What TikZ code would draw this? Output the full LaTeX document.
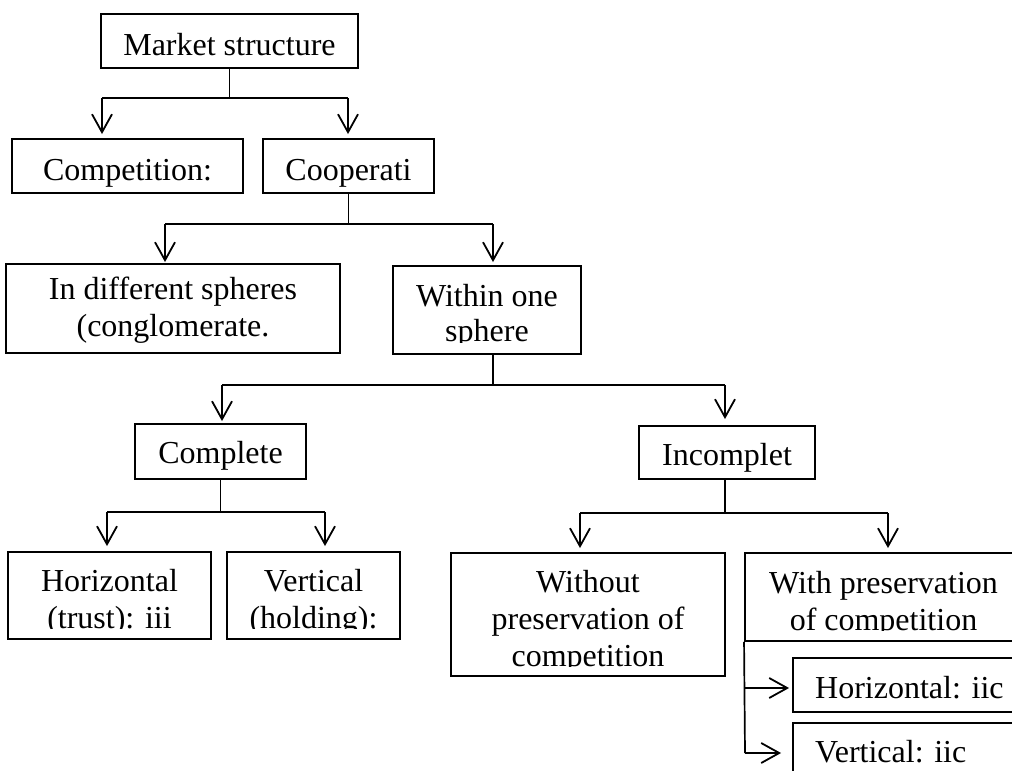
\documentclass[tikz,border=0pt]{standalone}
\usepackage{fontspec}
\setmainfont{Liberation Serif}
\usetikzlibrary{arrows.meta}
\begin{document}
\begin{tikzpicture}[x=1pt,y=1pt,
  box/.style={draw, line width=1.9pt, rectangle, inner sep=0pt},
  txt/.style={font=\fontsize{32}{37}\selectfont, inner sep=0pt, align=center},
  conn/.style={line width=1.1pt},
  arr/.style={line width=1.7pt, -{Straight Barb[length=18pt,width=20pt,line width=1.8pt]}},
]
\useasboundingbox (0,0) rectangle (1012,-771);
\clip (0,0) rectangle (1012,-771);

% boxes
\node[box, minimum width=257pt, minimum height=54pt] (mk) at (229.5,-41) {};
\node[box, minimum width=231pt, minimum height=54pt] (comp) at (127.5,-166) {};
\node[box, minimum width=171pt, minimum height=54pt] (coop) at (348.5,-166) {};
\node[box, minimum width=334pt, minimum height=89pt] (diff) at (173,-308.5) {};
\node[box, minimum width=188pt, minimum height=88pt] (within) at (487,-310) {};
\node[box, minimum width=171pt, minimum height=55pt] (cmpl) at (220.5,-451.5) {};
\node[box, minimum width=176pt, minimum height=53pt] (incm) at (727,-452.5) {};
\node[box, minimum width=203pt, minimum height=87pt] (horz) at (109.5,-595.5) {};
\node[box, minimum width=173pt, minimum height=87pt] (vert) at (313.5,-595.5) {};
\node[box, minimum width=274pt, minimum height=123pt] (wout) at (588,-614.5) {};
\node[box, minimum width=277pt, minimum height=88pt] (wpres) at (883.5,-597) {};
\node[box, minimum width=226pt, minimum height=54pt] (hiic) at (906,-685) {};
\node[box, minimum width=226pt, minimum height=67pt] (viic) at (906,-756.5) {};

% single-line texts
\node[txt, anchor=base] (mkt) at (229.5,-55) {Market structure};
\node[txt, anchor=base] (compt) at (127.5,-180) {Competition:};
\node[txt, anchor=base] (coopt) at (348.5,-180) {Cooperati};
\node[txt, anchor=base] (cmplt) at (220.5,-463) {Complete};
\node[txt, anchor=base] (incmt) at (727,-465) {Incomplet};
\node[txt, anchor=base west] (hiict) at (815,-698) {Horizontal: iic};
\node[txt, anchor=base west] (viict) at (815,-762) {Vertical: iic};

% multi-line texts, cut off near the box bottoms
\begin{scope}
\clip (diff.north west) rectangle ([yshift=10.5pt]diff.south east);
\node[txt, anchor=north] (difft) at (173,-277) {In different spheres\\(conglomerate.};
\end{scope}
\begin{scope}
\clip (within.north west) rectangle ([yshift=12pt]within.south east);
\node[txt, anchor=north, font=\fontsize{32}{35}\selectfont] (withint) at (487,-284) {Within one\\sphere};
\end{scope}
\begin{scope}
\clip (horz.north west) rectangle ([yshift=11pt]horz.south east);
\node[txt, anchor=north] (horzt) at (109.5,-569) {Horizontal\\(trust): iii};
\end{scope}
\begin{scope}
\clip (vert.north west) rectangle ([yshift=11pt]vert.south east);
\node[txt, anchor=north] (vertt) at (313.5,-569) {Vertical\\(holding):};
\end{scope}
\begin{scope}
\clip (wout.north west) rectangle ([yshift=10pt]wout.south east);
\node[txt, anchor=north] (woutt) at (588,-570) {Without\\preservation of\\competition};
\end{scope}
\begin{scope}
\clip (wpres.north west) rectangle ([yshift=11pt]wpres.south east);
\node[txt, anchor=north] (wprest) at (883.5,-571) {With preservation\\of competition};
\end{scope}

% connectors level 1
\coordinate (b1l) at (102,-98);
\coordinate (b1r) at (348,-98);
\draw[conn] (mk.south) -- (mk.south |- b1l);
\draw[conn] (b1l) -- (b1r);
\draw[arr] (b1l) -- ([yshift=4pt]b1l |- comp.north);
\draw[arr] (b1r) -- ([yshift=4pt]b1r |- coop.north);

% level 2
\coordinate (b2l) at (165,-224);
\coordinate (b2r) at (493,-224);
\draw[conn] (coop.south) -- (coop.south |- b2l);
\draw[conn] (b2l) -- (b2r);
\draw[arr] (b2l) -- ([yshift=1pt]b2l |- diff.north);
\draw[arr] (b2r) -- ([yshift=3pt]b2r |- within.north);

% level 3
\coordinate (b3m) at (493,-385);
\coordinate (b3l) at (222,-385);
\coordinate (b3r) at (725,-385);
\draw[conn] (b3m |- within.south) -- (b3m);
\draw[conn] (b3l) -- (b3r);
\draw[arr] (b3l) -- ([yshift=2pt]b3l |- cmpl.north);
\draw[arr] (b3r) -- ([yshift=6pt]b3r |- incm.north);

% level 4
\coordinate (b4l) at (107,-512);
\coordinate (b4r) at (325,-512);
\draw[conn] (cmpl.south) -- (cmpl.south |- b4l);
\draw[conn] (b4l) -- (b4r);
\draw[arr] (b4l) -- ([yshift=5pt]b4l |- horz.north);
\draw[arr] (b4r) -- ([yshift=5pt]b4r |- vert.north);

% level 5
\coordinate (b5m) at (725,-513);
\coordinate (b5l) at (580,-513);
\coordinate (b5r) at (888,-513);
\draw[conn] (b5m |- incm.south) -- (b5m);
\draw[conn] (b5l) -- (b5r);
\draw[arr] (b5l) -- ([yshift=4pt]b5l |- wout.north);
\draw[arr] (b5r) -- ([yshift=4pt]b5r |- wpres.north);

% level 6
\coordinate (c1) at (745,-688);
\coordinate (c2) at (745,-753);
\draw[line width=1.7pt] (wpres.south west) -- (c2);
\draw[arr] (c1) -- ([xshift=-3pt]c1 -| hiic.west);
\draw[arr] (c2) -- ([xshift=-11pt]c2 -| viic.west);
\end{tikzpicture}
\end{document}
